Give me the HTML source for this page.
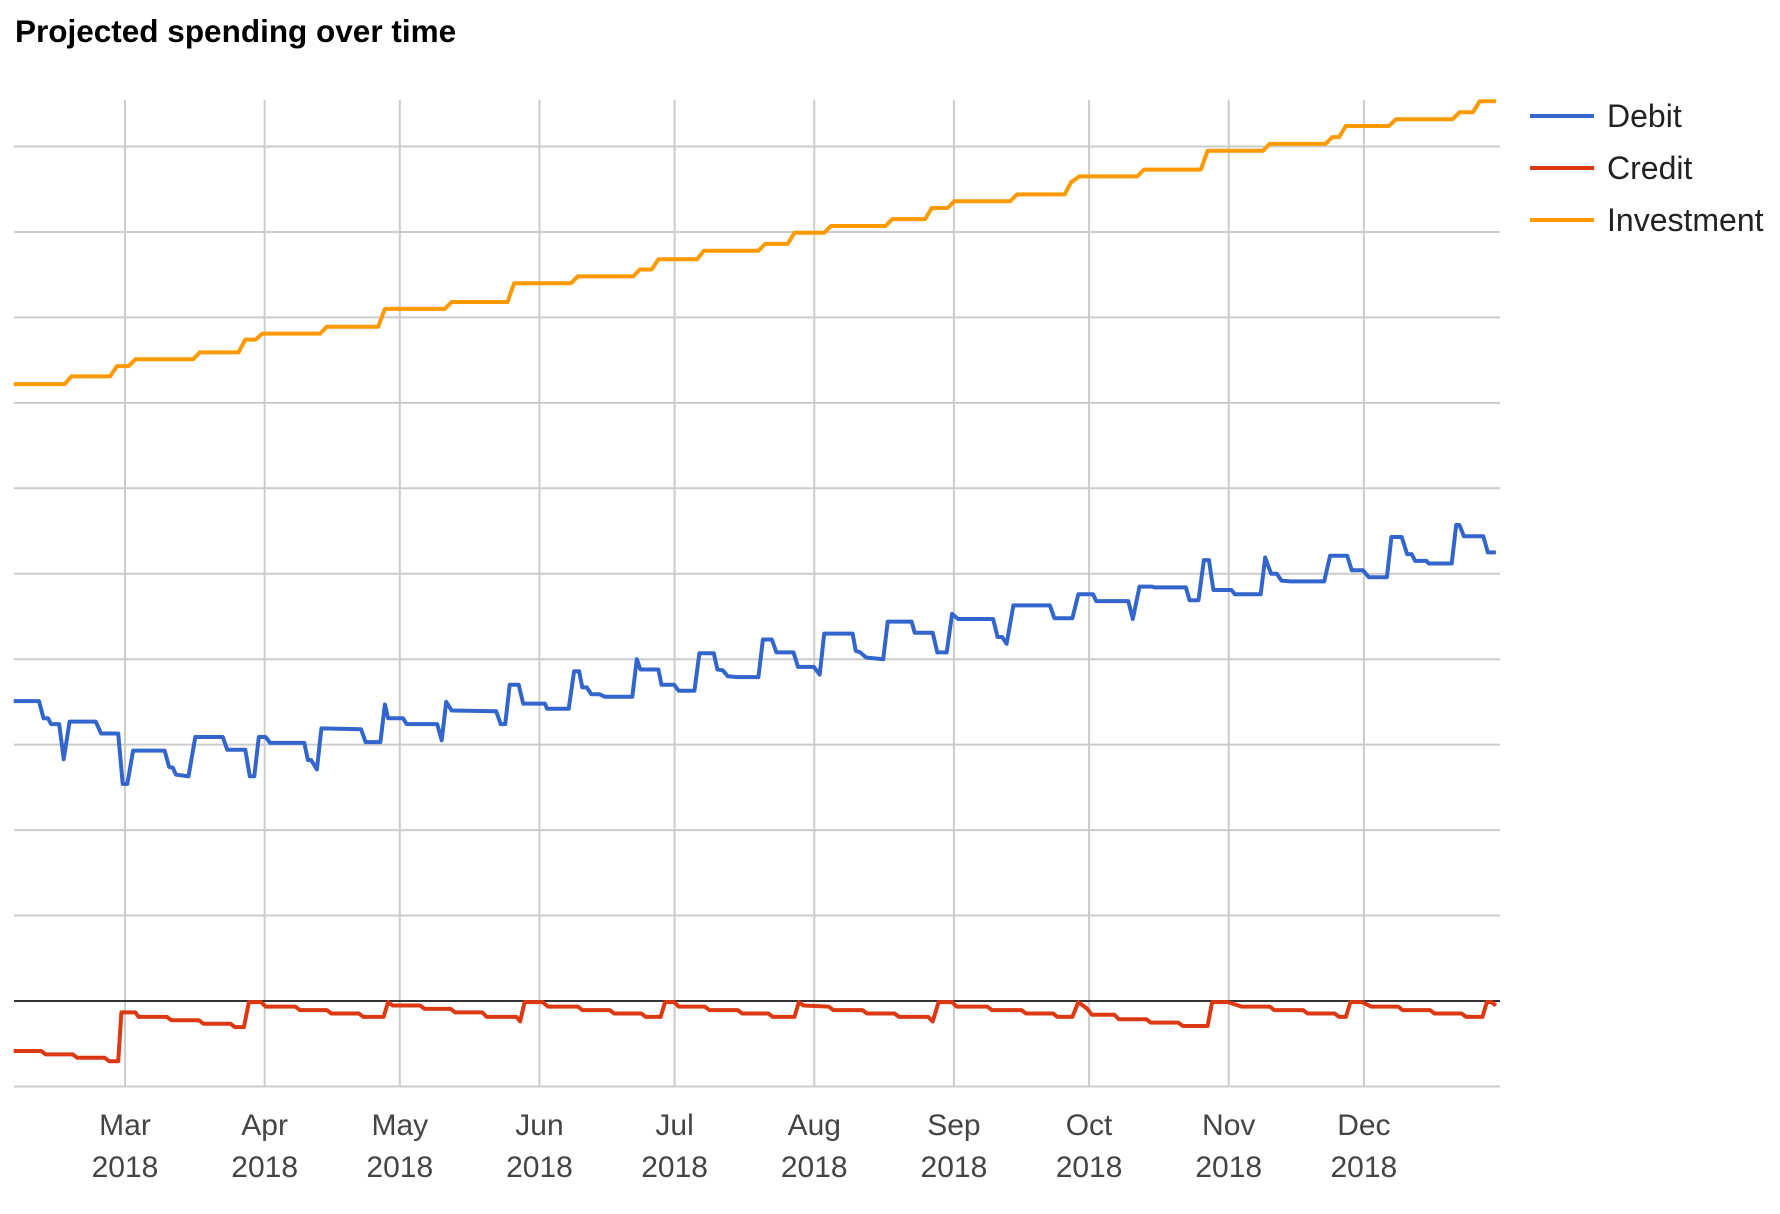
<!DOCTYPE html>
<html><head><meta charset="utf-8">
<style>
html,body{margin:0;padding:0;background:#fff;}
svg{display:block;font-family:"Liberation Sans",Arial,sans-serif;}
</style></head>
<body>
<svg id="chart" width="1780" height="1214" viewBox="0 0 1780 1214" xmlns="http://www.w3.org/2000/svg">
<text x="15" y="42" font-size="31.5" font-weight="bold" fill="#000">Projected spending over time</text>
<g id="grid"></g>
<g id="series"></g>
<g id="xaxis"></g>
<g>
 <g><line x1="1530" y1="116" x2="1594" y2="116" stroke="#3366cc" stroke-width="4"/><text x="1607" y="127" font-size="32" fill="#222">Debit</text></g>
 <g><line x1="1530" y1="168" x2="1594" y2="168" stroke="#dc3912" stroke-width="4"/><text x="1607" y="179" font-size="32" fill="#222">Credit</text></g>
 <g><line x1="1530" y1="220" x2="1594" y2="220" stroke="#ff9900" stroke-width="4"/><text x="1607" y="231" font-size="32" fill="#222">Investment</text></g>
</g>
</svg>
<script>
const monthLabels = ["Mar","Apr","May","Jun","Jul","Aug","Sep","Oct","Nov","Dec"];
const monthDays = [59,90,120,151,181,212,243,273,304,334];
const yearLabel = "2018";
const gridValues = [-1,0,1,2,3,4,5,6,7,8,9,10];

const debitDays = [34.3,39.9,40.9,41.9,42.6,44.4,45.4,46.7,52.5,53.7,57.5,58.5,59.5,60.8,67.8,68.8,69.6,70.3,73.1,74.6,80.7,81.7,85.7,86.7,87.7,88.7,90.2,91.2,98.8,99.6,100.3,101.6,102.6,111.4,112.4,115.7,116.7,117.4,120.7,121.5,128.3,129.3,130.3,131.5,141.4,142.4,143.4,144.4,146.4,147.4,152.2,152.7,157.5,158.7,159.8,160.5,161.5,162.5,164.3,165.5,171.6,172.6,173.4,177.4,178.1,180.9,181.9,185.4,186.5,189.7,190.5,191.7,192.8,195.0,199.6,200.6,202.6,203.6,207.4,208.4,211.9,213.2,214.2,220.5,221.2,222.2,223.5,227.3,228.3,233.6,234.3,238.3,239.3,241.4,242.6,243.9,251.7,252.7,253.7,254.7,256.2,264.3,265.3,269.3,270.6,273.9,274.6,281.7,282.7,284.2,287.0,287.5,294.5,295.3,297.3,298.5,299.6,300.6,304.6,305.4,311.1,312.1,313.4,314.7,315.7,317.7,325.2,326.5,330.3,331.3,333.8,335.1,339.1,340.1,342.4,343.6,344.6,345.4,347.9,348.4,353.5,354.5,355.2,356.2,360.5,361.5,363.3];
const debitValues = [3.51,3.51,3.31,3.31,3.24,3.24,2.83,3.27,3.27,3.13,3.13,2.54,2.54,2.93,2.93,2.74,2.73,2.65,2.63,3.09,3.09,2.94,2.94,2.63,2.63,3.09,3.09,3.02,3.02,2.82,2.82,2.71,3.19,3.18,3.03,3.03,3.47,3.31,3.31,3.24,3.24,3.05,3.50,3.40,3.39,3.24,3.24,3.70,3.70,3.48,3.48,3.42,3.42,3.86,3.86,3.67,3.67,3.59,3.59,3.56,3.56,4.00,3.88,3.88,3.70,3.70,3.63,3.63,4.07,4.07,3.88,3.87,3.80,3.79,3.79,4.23,4.23,4.08,4.08,3.91,3.91,3.82,4.30,4.30,4.10,4.08,4.02,4.00,4.44,4.44,4.31,4.31,4.08,4.08,4.53,4.47,4.47,4.26,4.26,4.18,4.63,4.63,4.48,4.48,4.76,4.76,4.68,4.68,4.47,4.85,4.85,4.84,4.84,4.69,4.69,5.16,5.16,4.81,4.81,4.76,4.76,5.19,5.00,5.00,4.92,4.91,4.91,5.21,5.21,5.04,5.04,4.96,4.96,5.43,5.43,5.23,5.23,5.15,5.15,5.12,5.12,5.57,5.57,5.44,5.44,5.25,5.25];

const creditDays = [34.3,40.4,41.4,47.4,48.4,54.5,55.5,57.5,58.2,61.3,62.0,68.3,69.3,75.4,76.4,82.4,83.4,85.4,86.5,89.2,90.2,96.8,97.8,103.8,104.8,110.9,111.9,116.4,117.4,118.4,124.5,125.5,131.3,132.3,138.3,139.3,145.9,146.7,147.7,151.7,152.9,159.5,160.5,166.6,167.6,173.6,174.6,177.9,178.9,180.9,181.9,187.7,188.7,195.0,196.0,201.8,202.8,207.6,208.6,209.6,215.2,216.2,222.7,223.7,229.8,230.8,237.3,238.3,239.6,242.6,243.6,250.4,251.4,258.0,259.0,265.0,266.0,269.3,270.6,272.6,273.6,278.6,279.6,285.7,286.7,292.8,293.8,299.3,300.3,303.8,306.9,313.1,314.1,320.5,321.5,327.5,328.5,330.0,331.0,333.6,335.6,341.6,342.6,348.7,349.7,355.7,356.7,360.3,361.3,362.3,363.3];
const creditValues = [-0.585,-0.585,-0.625,-0.625,-0.665,-0.665,-0.705,-0.705,-0.133,-0.133,-0.186,-0.186,-0.226,-0.226,-0.266,-0.266,-0.306,-0.306,-0.013,-0.013,-0.066,-0.066,-0.106,-0.106,-0.146,-0.146,-0.186,-0.186,-0.013,-0.053,-0.053,-0.093,-0.093,-0.133,-0.133,-0.186,-0.186,-0.239,-0.013,-0.013,-0.066,-0.066,-0.106,-0.106,-0.146,-0.146,-0.186,-0.186,-0.013,-0.013,-0.066,-0.066,-0.106,-0.106,-0.146,-0.146,-0.186,-0.186,-0.013,-0.053,-0.066,-0.106,-0.106,-0.146,-0.146,-0.186,-0.186,-0.239,-0.013,-0.013,-0.066,-0.066,-0.106,-0.106,-0.146,-0.146,-0.186,-0.186,-0.013,-0.093,-0.160,-0.160,-0.213,-0.213,-0.253,-0.253,-0.293,-0.293,-0.013,-0.013,-0.066,-0.066,-0.106,-0.106,-0.146,-0.146,-0.186,-0.186,-0.013,-0.013,-0.066,-0.066,-0.106,-0.106,-0.146,-0.146,-0.186,-0.186,-0.013,-0.013,-0.053];

const investStartDay = 34.3;
const investStartValue = 7.22;
const investStepDays = [45.6,55.7,59.8,74.1,84.2,88,102.3,115.2,130,143.9,158,171.8,175.9,186,199.6,206.1,214.2,227.8,236.6,241.6,255.5,267.6,269.3,283.7,297.8,311.6,325.5,328.5,339.6,353.7,358.2];
const investStepValues = [7.31,7.43,7.51,7.59,7.74,7.81,7.89,8.10,8.18,8.40,8.48,8.56,8.68,8.78,8.86,8.99,9.07,9.15,9.28,9.36,9.44,9.59,9.65,9.73,9.95,10.03,10.11,10.24,10.32,10.40,10.53];
const investEndDay = 363.3;

const NS = "http://www.w3.org/2000/svg";
const X0 = 14, X1 = 1500, YTOP = 100;
function xScale(d){ return 125 + (d - 59) * 4.505; }
function yScale(v){ return 1001 - v * 85.45; }
function mk(tag, attrs, parent){ const e = document.createElementNS(NS, tag); for (const k in attrs) e.setAttribute(k, attrs[k]); parent.appendChild(e); return e; }

const grid = document.getElementById('grid');
gridValues.forEach(v => {
  const l = mk('line', {x1:X0, x2:X1, y1:yScale(v), y2:yScale(v), stroke: v===0 ? '#333' : '#ccc', 'stroke-width':2}, grid);
  
  
});
const xaxis = document.getElementById('xaxis');
monthDays.forEach((d, i) => {
  const x = xScale(d);
  const l = mk('line', {x1:x, x2:x, y1:YTOP, y2:yScale(-1), stroke:'#ccc', 'stroke-width':2}, grid);
  
  
  const t1 = mk('text', {x:x, y:1135, 'font-size':30, fill:'#444', 'text-anchor':'middle'}, xaxis);
  t1.textContent = monthLabels[i];
  
  
  const t2 = mk('text', {x:x, y:1177, 'font-size':30, fill:'#444', 'text-anchor':'middle'}, xaxis);
  t2.textContent = yearLabel;
  
  
});
const zl = mk('line', {x1:X0, x2:X1, y1:yScale(0), y2:yScale(0), stroke:'#333', 'stroke-width':2}, grid);



const series = document.getElementById('series');
function drawLine(days, vals, color, name){
  const pts = days.map((d, i) => xScale(d).toFixed(1) + ',' + yScale(vals[i]).toFixed(1)).join(' ');
  const p = mk('polyline', {points: pts, fill:'none', stroke: color, 'stroke-width':4, 'stroke-linejoin':'round'}, series);
  
  
}
const invD = [investStartDay], invV = [investStartValue];
let prev = investStartValue;
investStepDays.forEach((d, i) => { invD.push(d); invV.push(prev); invD.push(d + 1.5); invV.push(investStepValues[i]); prev = investStepValues[i]; });
invD.push(investEndDay); invV.push(prev);

drawLine(creditDays, creditValues, '#dc3912', 'credit-line');
drawLine(debitDays, debitValues, '#3366cc', 'debit-line');
drawLine(invD, invV, '#ff9900', 'investment-line');
</script>
</body></html>
